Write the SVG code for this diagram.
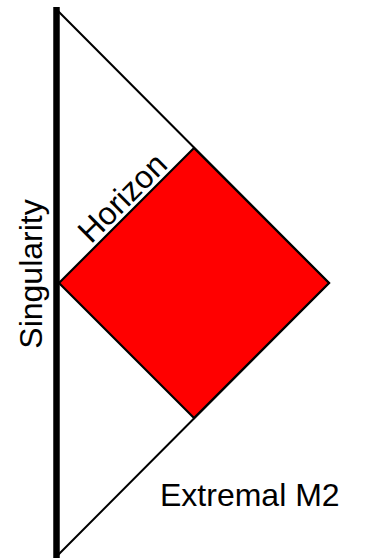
<svg xmlns="http://www.w3.org/2000/svg" width="366" height="558" viewBox="0 0 366 558">
<style>
.edge{fill:none;stroke:#000;stroke-width:2}
.lbl{font-family:"Liberation Sans",Arial,sans-serif;font-size:32px;fill:#000}
</style>
<rect width="366" height="558" fill="#fff"/>
<g id="connectors">
<polyline class="edge" points="57,10 329,283 57,556"/>
</g>
<g id="diamond">
<polygon points="59,283 194,148 329,283 194,418" fill="#ff0000" stroke="#000" stroke-width="2.2" stroke-linejoin="miter"/>
</g>
<g id="singularity">
<line x1="56.5" y1="7" x2="56.5" y2="558" stroke="#000" stroke-width="6.5"/>
<text class="lbl" transform="translate(42,274) rotate(-90)" text-anchor="middle">Singularity</text>
</g>
<g id="horizon">
<text class="lbl" transform="translate(130,205.5) rotate(-45)" text-anchor="middle">Horizon</text>
</g>
<g id="extremal">
<text class="lbl" x="160" y="506">Extremal M2</text>
</g>
</svg>
